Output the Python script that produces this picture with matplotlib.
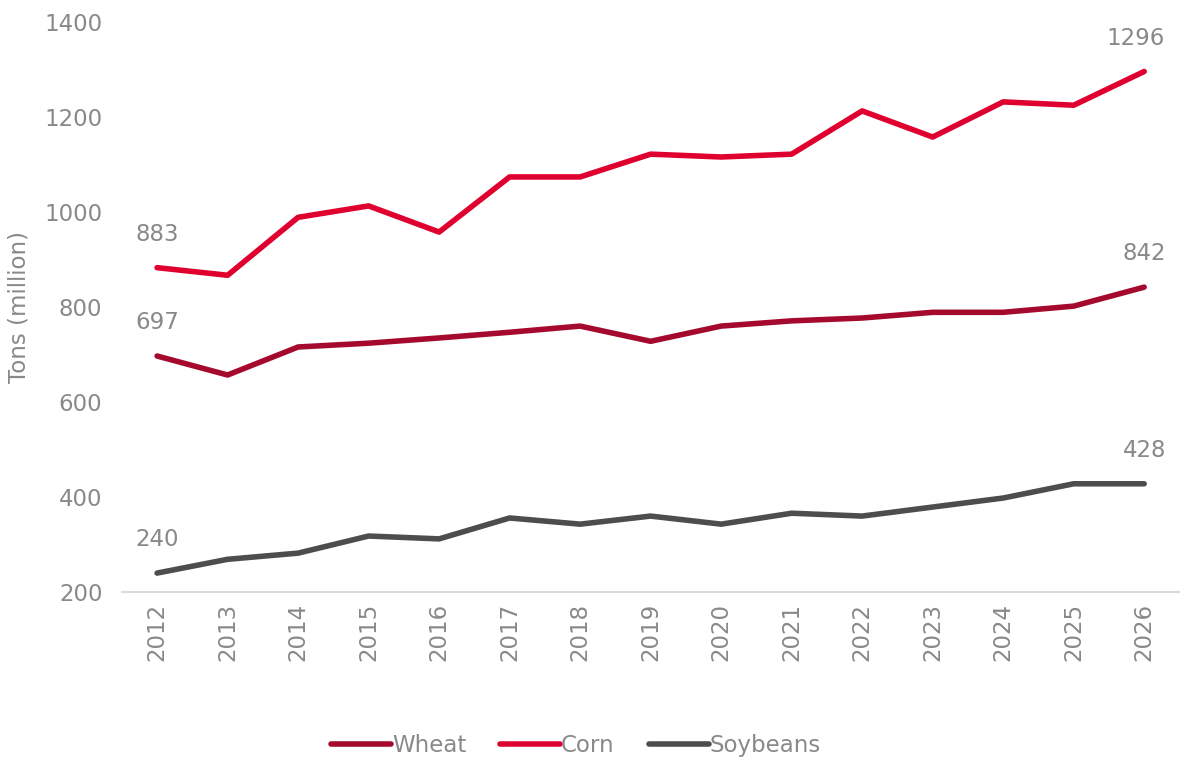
import matplotlib.pyplot as plt
import numpy as np

years = [str(y) for y in range(2012, 2027)]
wheat = [697, 657, 716, 724, 735, 747, 760, 728, 760, 771, 777, 789, 789, 802, 842]
corn = [883, 867, 989, 1013, 958, 1074, 1074, 1122, 1116, 1122, 1213, 1158, 1232, 1225, 1296]
soybeans = [240, 269, 282, 318, 312, 356, 343, 360, 343, 366, 360, 379, 398, 428, 428]

series = [('Wheat', wheat, '#a50a2e'), ('Corn', corn, '#e0002f'), ('Soybeans', soybeans, '#4d4d4d')]
grey = '#898989'
fs = 16.5

plt.rcParams['font.family'] = ['DejaVu Sans']
fig = plt.figure(figsize=(11.83, 7.62), dpi=100)
ax = fig.add_axes([0.103, 0.223, 0.894, 0.748])

x = np.arange(len(years))
for name, vals, col in series:
    ax.plot(x, vals, color=col, lw=4, label=name, solid_capstyle='round')
    # first and last values written above the line
    ax.annotate(str(vals[0]), (x[0], vals[0]), xytext=(0, 24), textcoords='offset points',
                ha='center', va='center', fontsize=fs, color=grey)
    ax.annotate(str(vals[-1]), (x[-1], vals[-1]), xytext=(-6 if vals[-1] > 1000 else 0, 24),
                textcoords='offset points', ha='center', va='center', fontsize=fs, color=grey)

ax.set_xlim(-0.5, len(years) - 0.5)
ax.set_ylim(200, 1400)
ax.set_yticks(range(200, 1401, 200))
ax.set_xticks(x)
ax.set_xticklabels(years, rotation=90)
ax.tick_params(axis='both', length=0, labelsize=fs, labelcolor=grey)
ax.tick_params(axis='y', pad=14)
ax.tick_params(axis='x', pad=8)
for s in ['top', 'right', 'left']:
    ax.spines[s].set_visible(False)
ax.spines['bottom'].set_color('#d9d9d9')
ax.spines['bottom'].set_linewidth(1.5)
ax.set_ylabel('Tons (million)', fontsize=fs, color=grey, labelpad=10)

leg = fig.legend(loc='lower center', bbox_to_anchor=(0.487, -0.02), ncol=3, frameon=False,
                 fontsize=fs, handlelength=2.6, handletextpad=0.05, columnspacing=1.5)
for t in leg.get_texts():
    t.set_color(grey)

fig.savefig('out.png', dpi=100)
